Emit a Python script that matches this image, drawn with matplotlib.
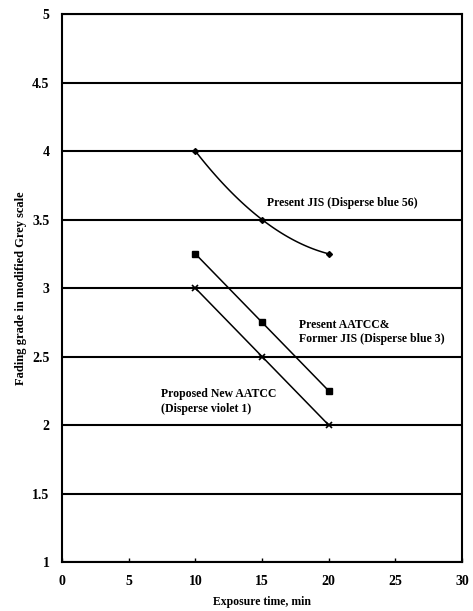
import numpy as np
import matplotlib
matplotlib.use("Agg")
import matplotlib.pyplot as plt

plt.rcParams['font.family'] = ['Liberation Serif', 'DejaVu Serif']
plt.rcParams['font.weight'] = 'bold'
plt.rcParams['axes.labelweight'] = 'bold'

# exposure time, min
time = [10, 15, 20]
# fading grade in modified grey scale
jis_blue56 = [4.0, 3.5, 3.25]
aatcc_blue3 = [3.25, 2.75, 2.25]
aatcc_violet1 = [3.0, 2.5, 2.0]

fig = plt.figure(figsize=(4.73, 6.11), dpi=100)
ax = fig.add_axes([0.131, 0.080, 0.846, 0.897])

# smoothed line through the JIS points (like a spreadsheet smooth line)
coef = np.polyfit(time, jis_blue56, 2)
xs = np.linspace(time[0], time[-1], 60)
ax.plot(xs, np.polyval(coef, xs), color='black', lw=1.1)
ax.plot(time, jis_blue56, 'D', color='black', ms=3)

ax.plot(time, aatcc_blue3, '-s', color='black', lw=1.1, ms=5)
ax.plot(time, aatcc_violet1, '-x', color='black', lw=1.1, ms=4, mew=1.2)

ax.text(15.4, 3.62, 'Present JIS (Disperse blue 56)', fontsize=8.5, va='center')
ax.text(17.8, 2.68, 'Present AATCC&\nFormer JIS (Disperse blue 3)', fontsize=8.5,
        va='center', linespacing=1.3)
ax.text(7.4, 2.17, 'Proposed New AATCC\n(Disperse violet 1)', fontsize=8.5,
        va='center', linespacing=1.3)

ax.set_xlim(0, 30)
ax.set_ylim(1, 5)
ax.set_xticks(np.arange(0, 31, 5))
ax.set_yticks(np.arange(1, 5.01, 0.5))
ax.set_yticklabels(['1', '1.5', '2', '2.5', '3', '3.5', '4', '4.5', '5'])
ax.yaxis.grid(True, color='black', lw=1.5)
ax.set_axisbelow(True)
ax.tick_params(axis='x', direction='in', length=3, width=1, labelsize=10, pad=9)
ax.tick_params(axis='y', length=0, labelsize=10, pad=9)
for s in ax.spines.values():
    s.set_linewidth(1.5)

ax.set_xlabel('Exposure time, min', fontsize=8.5, labelpad=6)
ax.set_ylabel('Fading grade in modified Grey scale', fontsize=9, labelpad=4)

fig.savefig('out.png', dpi=100)
